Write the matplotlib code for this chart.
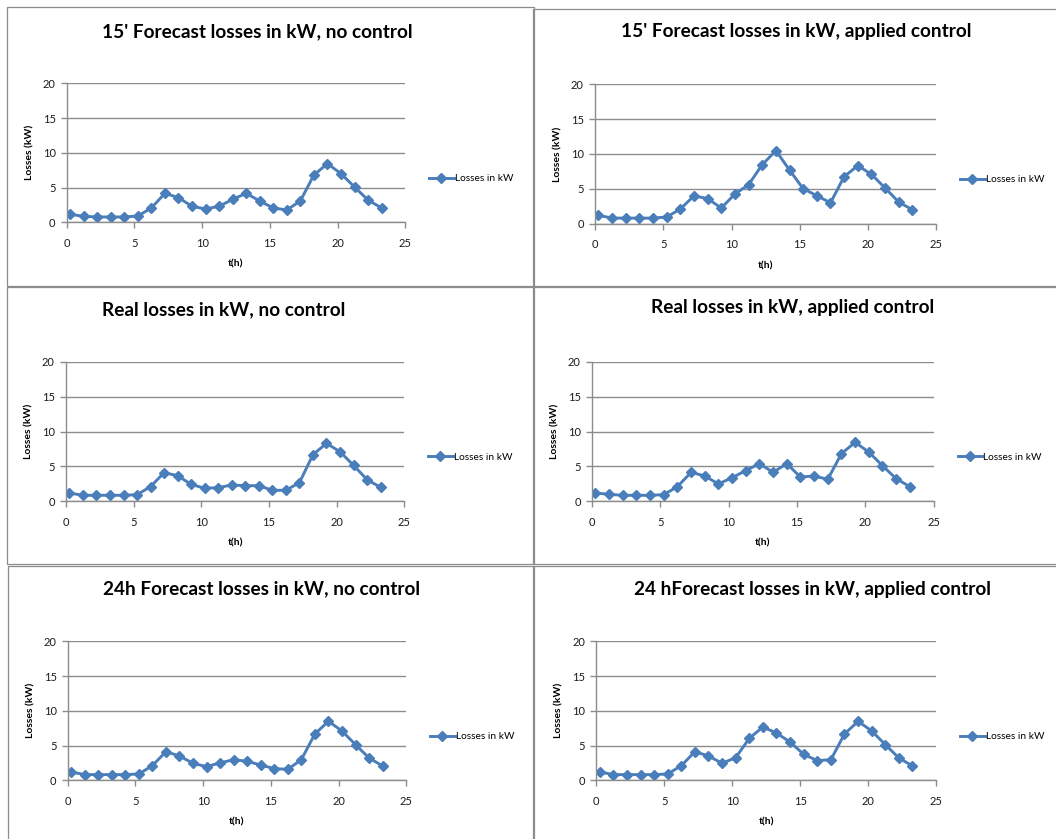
import matplotlib
matplotlib.use("Agg")
import matplotlib.pyplot as plt
from matplotlib.patches import Rectangle

# Hour stamps of the samples
hours = [0.25, 1.25, 2.25, 3.25, 4.25, 5.25, 6.25, 7.25, 8.25, 9.25, 10.25, 11.25,
         12.25, 13.25, 14.25, 15.25, 16.25, 17.25, 18.25, 19.25, 20.25, 21.25, 22.25, 23.25]

# Losses in kW for each scenario
fc15_no_control = [1.15, 0.86, 0.77, 0.77, 0.77, 0.90, 2.06, 4.17, 3.55, 2.30, 1.92, 2.30,
                   3.30, 4.17, 3.07, 2.06, 1.77, 3.07, 6.80, 8.44, 7.00, 5.08, 3.20, 2.06]
fc15_control = [1.20, 0.81, 0.80, 0.80, 0.80, 0.96, 2.10, 4.00, 3.60, 2.25, 4.26, 5.60,
                8.47, 10.48, 7.70, 5.02, 4.02, 3.00, 6.75, 8.33, 7.08, 5.12, 3.10, 2.00]
real_no_control = [1.19, 0.86, 0.86, 0.86, 0.86, 0.95, 2.10, 4.10, 3.67, 2.43, 1.86, 1.96,
                   2.34, 2.24, 2.24, 1.58, 1.58, 2.67, 6.68, 8.30, 7.10, 5.15, 3.10, 2.00]
real_control = [1.19, 1.00, 0.86, 0.86, 0.86, 0.95, 2.10, 4.15, 3.63, 2.48, 3.39, 4.39,
                5.39, 4.15, 5.39, 3.48, 3.63, 3.15, 6.83, 8.45, 7.06, 5.10, 3.25, 2.10]
fc24_no_control = [1.20, 0.82, 0.82, 0.82, 0.82, 0.91, 2.10, 4.12, 3.50, 2.45, 1.97, 2.50,
                   2.97, 2.73, 2.20, 1.68, 1.58, 2.97, 6.67, 8.49, 7.10, 5.13, 3.21, 2.06]
fc24_control = [1.20, 0.82, 0.82, 0.82, 0.82, 0.91, 2.10, 4.12, 3.50, 2.45, 3.26, 6.04,
                7.67, 6.80, 5.50, 3.74, 2.83, 2.97, 6.67, 8.49, 7.10, 5.13, 3.21, 2.06]

titles = ["15' Forecast losses in kW, no control",
          "15' Forecast losses in kW, applied control",
          "Real losses in kW, no control",
          "Real losses in kW, applied control",
          "24h Forecast losses in kW, no control",
          "24 hForecast losses in kW, applied control"]
series = [fc15_no_control, fc15_control, real_no_control,
          real_control, fc24_no_control, fc24_control]

series_label = "Losses in kW"
x_label = "t(h)"
y_label = "Losses (kW)"
x_ticks = [0, 5, 10, 15, 20, 25]
y_ticks = [0, 5, 10, 15, 20]

W, H = 1056, 839
LINE = "#4A7EBB"
GRID = "#8C8C8C"
FONT = "Lato"

fig = plt.figure(figsize=(W / 100, H / 100), dpi=100)
fig.patch.set_facecolor("white")


def fx(px):
    return px / W


def fy(py):
    return 1 - py / H


# chart frames (left, top, right, bottom) in pixels
frames = [(7, 7, 534, 286), (533, 9, 1062, 286),
          (7, 287, 534, 564), (533, 287, 1062, 564),
          (8, 566, 534, 845), (533, 566, 1062, 845)]
# plot areas (left, top, right, bottom) in pixels
areas = [(66.7, 83.3, 405.3, 222.3), (595, 84.3, 936.3, 223.7),
         (66, 361.7, 404.3, 501.3), (592, 361.7, 933.7, 501.3),
         (67.7, 641.3, 406.3, 780.3), (596.3, 641.3, 936.3, 780.3)]
# title centres in pixels
title_pos = [(257.5, 32), (796, 32), (224, 310), (793, 308), (262, 589), (812, 589)]

for (l, t, r, b) in frames:
    fig.add_artist(Rectangle((fx(l), fy(b)), fx(r - l), (b - t) / H,
                             transform=fig.transFigure, fill=False,
                             edgecolor=GRID, linewidth=0.9))

for (l, t, r, b), title, ys, (tx, ty) in zip(areas, titles, series, title_pos):
    ax = fig.add_axes([fx(l), fy(b), fx(r - l), (b - t) / H])
    ax.plot(hours, ys, color=LINE, linewidth=2.1, marker="D", markersize=5.5,
            markerfacecolor=LINE, markeredgecolor=LINE, label=series_label)
    ax.set_xlim(0, 25)
    ax.set_ylim(0, 20)
    ax.set_xticks(x_ticks)
    ax.set_yticks(y_ticks)
    for s in ("top", "right"):
        ax.spines[s].set_visible(False)
    for s in ("left", "bottom"):
        ax.spines[s].set_color(GRID)
        ax.spines[s].set_linewidth(1.0)
    ax.yaxis.grid(True, color=GRID, linewidth=1.0)
    ax.set_axisbelow(True)
    ax.tick_params(axis="both", direction="out", length=4, width=1.0, color=GRID,
                   labelsize=8, labelcolor="#1a1a1a")
    ax.tick_params(axis="x", pad=7)
    ax.tick_params(axis="y", pad=4)
    for lab in ax.get_xticklabels() + ax.get_yticklabels():
        lab.set_fontfamily(FONT)

    aw, ah = r - l, b - t
    ax.set_xlabel(x_label, fontsize=7.5, fontweight="bold", family=FONT, va="center")
    ax.xaxis.set_label_coords(0.5, -42 / ah)
    ax.set_ylabel(y_label, fontsize=7.5, fontweight="bold", family=FONT, va="center")
    ax.yaxis.set_label_coords(-37 / aw, 0.5)

    leg = ax.legend(loc="center left", bbox_to_anchor=(1 + 24 / aw, (b - (t + 95.5)) / ah),
                    frameon=False, handlelength=2.4, handletextpad=0.1,
                    borderpad=0, borderaxespad=0, prop={"family": FONT, "size": 7.3})
    leg.get_lines()[0].set_markersize(5)

    fig.text(fx(tx), fy(ty), title, ha="center", va="center", fontsize=13.7,
             fontweight="bold", family=FONT, color="black")

fig.savefig("out.png", dpi=100, facecolor="white")
